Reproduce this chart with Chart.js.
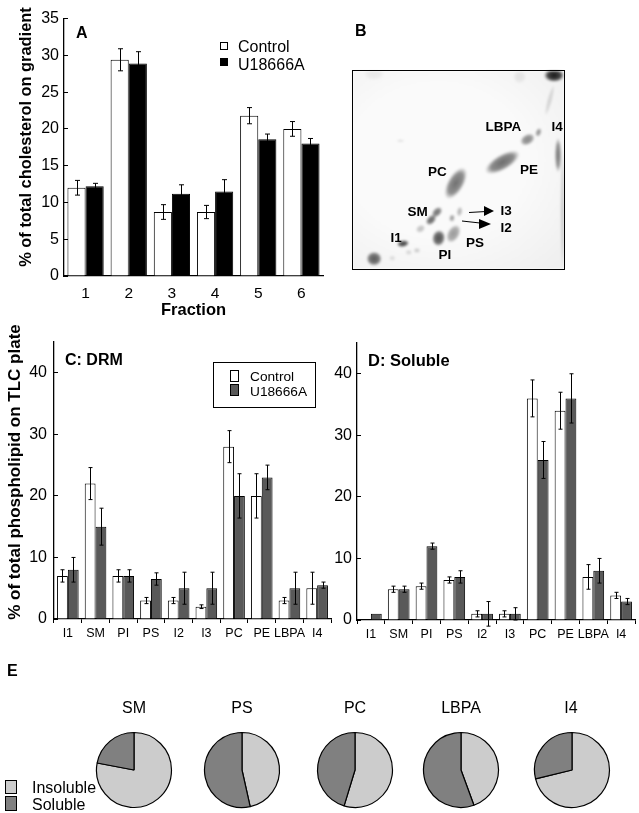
<!DOCTYPE html>
<html>
<head>
<meta charset="utf-8">
<script src="https://cdn.jsdelivr.net/npm/chart.js@4"></script>
<style>
    html, body { margin: 0; padding: 0; background: #fff; }
    #page { position: relative; width: 639px; height: 813px; overflow: hidden; font-family: "Liberation Sans", sans-serif; color: #000; }
    canvas { position: absolute; }
    .txt { position: absolute; white-space: nowrap; line-height: 1; }
    .panel { font-weight: bold; font-size: 16px; }
    .spot { font-weight: bold; font-size: 13.5px; }
    .ytitle { font-weight: bold; transform: translate(-50%, -50%) rotate(-90deg); }
    .swatch { position: absolute; box-sizing: border-box; border: 1px solid #000; }
    #legendC { position: absolute; left: 213px; top: 362px; width: 103px; height: 46px; box-sizing: border-box; border: 1px solid #000; }
    #plateFrame { position: absolute; left: 352px; top: 70px; width: 213px; height: 200px; box-sizing: border-box; border: 1px solid #000; }
    #plate { filter: blur(1.2px); background: radial-gradient(ellipse at 40% 45%, #fafafa 50%, #eeeeee 100%); }
    #arrows { position: absolute; left: 0; top: 0; }
</style>
</head>
<body>
<div id="page">
    <canvas id="chartA" style="left:0;top:0"></canvas>
    <canvas id="plate" style="left:353px;top:71px"></canvas>
    <div id="plateFrame"></div>
    <canvas id="chartC" style="left:0;top:320px"></canvas>
    <canvas id="chartD" style="left:330px;top:320px"></canvas>
    <canvas id="pieSM" style="left:94px;top:730px"></canvas>
    <canvas id="piePS" style="left:202px;top:730px"></canvas>
    <canvas id="piePC" style="left:315px;top:730px"></canvas>
    <canvas id="pieLBPA" style="left:421px;top:730px"></canvas>
    <canvas id="pieI4" style="left:532px;top:730px"></canvas>

    <svg id="arrows" width="639" height="813">
        <line x1="469" y1="212.5" x2="486" y2="211.5" stroke="#000" stroke-width="1"/>
        <polygon points="484,206 494,211 484,216" fill="#000"/>
        <line x1="462" y1="221" x2="480" y2="223" stroke="#000" stroke-width="1"/>
        <polygon points="479,219 491,224 479,229" fill="#000"/>
    </svg>

    <div class="txt panel" style="left:76px;top:25px">A</div>
    <div class="txt panel" style="left:355px;top:23px">B</div>
    <div class="txt panel" style="left:65px;top:352px">C: DRM</div>
    <div class="txt panel" style="left:368px;top:352px;font-size:16.5px">D: Soluble</div>
    <div class="txt panel" style="left:7px;top:663px">E</div>

    <div class="txt ytitle" style="left:25px;top:136.5px;font-size:16.4px">% of total cholesterol on gradient</div>
    <div class="txt ytitle" style="left:14px;top:472px;font-size:17px">% of total phospholipid on TLC plate</div>

    <div class="swatch" style="left:220px;top:42px;width:8px;height:8px;background:#fff"></div>
    <div class="swatch" style="left:220px;top:58px;width:8px;height:8px;background:#000"></div>
    <div class="txt" style="left:238px;top:39px;font-size:16px">Control</div>
    <div class="txt" style="left:238px;top:57px;font-size:16px">U18666A</div>

    <div id="legendC"></div>
    <div class="swatch" style="left:230px;top:370px;width:9px;height:12px;background:#fff"></div>
    <div class="swatch" style="left:230px;top:384px;width:9px;height:12px;background:#595959"></div>
    <div class="txt" style="left:250px;top:370px;font-size:13.7px">Control</div>
    <div class="txt" style="left:250px;top:385px;font-size:13.7px">U18666A</div>

    <div class="txt spot" style="left:485.5px;top:120px">LBPA</div>
    <div class="txt spot" style="left:551.5px;top:120px">I4</div>
    <div class="txt spot" style="left:428px;top:165px">PC</div>
    <div class="txt spot" style="left:520px;top:163px">PE</div>
    <div class="txt spot" style="left:407.5px;top:205px">SM</div>
    <div class="txt spot" style="left:500.5px;top:204px">I3</div>
    <div class="txt spot" style="left:500.5px;top:221px">I2</div>
    <div class="txt spot" style="left:390.5px;top:231px">I1</div>
    <div class="txt spot" style="left:466px;top:236px">PS</div>
    <div class="txt spot" style="left:438.5px;top:248px">PI</div>

    <div class="txt" style="left:134px;top:700px;font-size:16px;transform:translateX(-50%)">SM</div>
    <div class="txt" style="left:242px;top:700px;font-size:16px;transform:translateX(-50%)">PS</div>
    <div class="txt" style="left:355px;top:700px;font-size:16px;transform:translateX(-50%)">PC</div>
    <div class="txt" style="left:461px;top:700px;font-size:16px;transform:translateX(-50%)">LBPA</div>
    <div class="txt" style="left:571px;top:700px;font-size:16px;transform:translateX(-50%)">I4</div>

    <div class="swatch" style="left:5px;top:780px;width:12px;height:14px;background:#ccc"></div>
    <div class="swatch" style="left:5px;top:796px;width:12px;height:15px;background:#808080"></div>
    <div class="txt" style="left:32px;top:780px;font-size:16px">Insoluble</div>
    <div class="txt" style="left:32px;top:797px;font-size:16px">Soluble</div>
</div>

<script>
// Panel A
const fractions = ["1", "2", "3", "4", "5", "6"];
const cholControl = [12, 29.4, 8.7, 8.7, 21.8, 20];
const cholControlErr = [1, 1.5, 1, 0.9, 1.1, 1];
const cholDrug = [12.2, 28.9, 11.2, 11.5, 18.6, 18];
const cholDrugErr = [0.4, 1.6, 1.2, 1.6, 0.7, 0.7];

// Panels C and D
const lipids = ["I1", "SM", "PI", "PS", "I2", "I3", "PC", "PE", "LBPA", "I4"];
const drmControl = [7, 22, 7, 3, 3, 2, 28, 20, 3, 5];
const drmControlErr = [1, 2.6, 1, 0.5, 0.5, 0.3, 2.6, 3.6, 0.5, 2.6];
const drmDrug = [8, 15, 7, 6.5, 5, 5, 20, 23, 5, 5.5];
const drmDrugErr = [2, 3, 1, 1, 2.6, 2.6, 3.6, 2, 2.6, 0.5];
const solControl = [null, 5, 5.5, 6.5, 1, 1, 36, 34, 7, 4];
const solControlErr = [0, 0.5, 0.5, 0.5, 0.5, 0.5, 3, 3, 2, 0.5];
const solDrug = [1, 5, 12, 7, 1, 1, 26, 36, 8, 3];
const solDrugErr = [0, 0.5, 0.5, 1, 2, 1, 3, 4, 2, 0.5];

// Panel E, % insoluble then % soluble
const pieInsoluble = [78, 46.5, 54.7, 44.4, 71.2];
const pieSoluble = [22, 53.5, 45.3, 55.6, 28.8];

// Panel B, plate spots in plate units (0-100 each way)
const spotX = [10, 23.7, 18.6, 26.4, 30.3, 32, 37, 39.8, 40.6, 47.6, 46.9, 50.5, 48.7, 70.8, 82.7, 87.9, 97.2, 95.3, 93.2, 79, 10, 22.5, 99.5];
const spotY = [5.2, 12.8, 5.5, 8.4, 9.4, 20.3, 24.8, 28.7, 15.6, 17.8, 25.7, 29, 43.3, 53.9, 65.4, 69, 57.5, 97.8, 85.2, 97, 98.6, 64.8, 30];
const spotLong = [3.8, 3, 1.6, 1.6, 1.6, 2.4, 3, 3, 4, 4.8, 1.8, 2.4, 8.6, 9.5, 3.8, 2.2, 8.5, 5, 8, 3.2, 5, 2.4, 30];
const spotWide = [3.5, 1.7, 1.3, 1.3, 1.3, 1.8, 2, 2, 3.2, 3, 1.4, 1.4, 4, 3.8, 2.6, 1.4, 1.6, 3.2, 1.2, 3.2, 3.2, 0.4, 1.2];
const spotTilt = [0, -10, 0, 0, 0, -30, -45, -45, -80, -60, -80, -80, -60, -30, -30, -70, -90, 0, -75, -80, 0, 0, -90];
const spotDark = [0.7, 0.8, 0.12, 0.15, 0.2, 0.25, 0.65, 0.6, 0.75, 0.42, 0.4, 0.3, 0.6, 0.62, 0.5, 0.45, 0.55, 1, 0.15, 0.08, 0.06, 0.2, 0.2];

const black = "#000";
const dark = "#595959";

// draws the error bars over the bars, through the value scale
const errorBars = {
    id: "errorBars",
    afterDatasetsDraw(chart, args, opts) {
        const ctx = chart.ctx;
        const y = chart.scales.y;
        ctx.save();
        ctx.strokeStyle = "#000";
        ctx.lineWidth = 1;
        chart.data.datasets.forEach((ds, d) => {
            chart.getDatasetMeta(d).data.forEach((bar, i) => {
                if (ds.data[i] == null || !ds.errors[i]) return;
                const x = Math.round(bar.x) + 0.5;
                const hi = y.getPixelForValue(ds.data[i] + ds.errors[i]);
                const lo = y.getPixelForValue(ds.data[i] - ds.errors[i]);
                ctx.beginPath();
                ctx.moveTo(x, hi);
                ctx.lineTo(x, lo);
                ctx.moveTo(x - opts.cap, hi);
                ctx.lineTo(x + opts.cap, hi);
                ctx.moveTo(x - opts.cap, lo);
                ctx.lineTo(x + opts.cap, lo);
                ctx.stroke();
            });
        });
        ctx.restore();
    }
};

function barChart(id, w, h, cfg) {
    const canvas = document.getElementById(id);
    canvas.width = w;
    canvas.height = h;
    return new Chart(canvas, {
        type: "bar",
        data: {
            labels: cfg.labels,
            datasets: [
                { data: cfg.a, errors: cfg.aErr, backgroundColor: "#fff", borderColor: black, borderWidth: 1 },
                { data: cfg.b, errors: cfg.bErr, backgroundColor: cfg.fill, borderColor: black, borderWidth: 1 }
            ]
        },
        options: {
            responsive: false,
            animation: false,
            layout: { padding: cfg.padding },
            datasets: { bar: { categoryPercentage: cfg.groupShare, barPercentage: 1 } },
            plugins: {
                legend: { display: false },
                tooltip: { enabled: false },
                errorBars: { cap: cfg.cap }
            },
            scales: {
                x: {
                    afterFit: s => { s.height = cfg.xHeight; },
                    title: cfg.xTitle
                        ? { display: true, text: cfg.xTitle, color: black, font: { family: "Liberation Sans", size: 16.5, weight: "bold" }, padding: 0 }
                        : { display: false },
                    border: { color: black, width: 1.3 },
                    grid: { drawOnChartArea: false, offset: true, drawTicks: cfg.xTicks > 0, tickLength: cfg.xTicks, tickColor: black },
                    ticks: {
                        color: black,
                        autoSkip: false,
                        maxRotation: 0,
                        padding: cfg.xPad,
                        font: { family: "Liberation Sans", size: cfg.xFont }
                    }
                },
                y: {
                    min: 0,
                    max: cfg.max,
                    afterFit: s => { s.width = cfg.yWidth; },
                    // the axis runs past the last labelled tick in C and D
                    afterBuildTicks: s => { s.ticks = s.ticks.filter(t => t.value % cfg.step === 0); },
                    border: { color: black, width: 1.3 },
                    grid: { drawOnChartArea: false, tickLength: -4, tickColor: black },
                    ticks: {
                        stepSize: cfg.step,
                        color: black,
                        padding: cfg.yPad,
                        font: { family: "Liberation Sans", size: 16 }
                    }
                }
            }
        },
        plugins: [errorBars]
    });
}

barChart("chartA", 330, 320, {
    labels: fractions, a: cholControl, aErr: cholControlErr, b: cholDrug, bErr: cholDrugErr,
    fill: black, max: 35, step: 5, groupShare: 0.84, cap: 2.5,
    padding: { top: 18, right: 7 }, yWidth: 64, xHeight: 44,
    xTitle: "Fraction", xTicks: 0, xFont: 15.5, xPad: 8, yPad: 9
});

barChart("chartC", 332, 320, {
    labels: lipids, a: drmControl, aErr: drmControlErr, b: drmDrug, bErr: drmDrugErr,
    fill: dark, max: 45, step: 10, groupShare: 0.78, cap: 2,
    padding: { top: 22, right: 1 }, yWidth: 54, xHeight: 21,
    xTicks: 4, xFont: 12.5, xPad: 3, yPad: 11
});

barChart("chartD", 306, 320, {
    labels: lipids, a: solControl, aErr: solControlErr, b: solDrug, bErr: solDrugErr,
    fill: dark, max: 45, step: 10, groupShare: 0.78, cap: 2,
    padding: { top: 23, right: 1 }, yWidth: 27, xHeight: 20,
    xTicks: 4, xFont: 12.5, xPad: 3, yPad: 9
});

// pies, insoluble first going clockwise from the top
["pieSM", "piePS", "piePC", "pieLBPA", "pieI4"].forEach((id, i) => {
    const canvas = document.getElementById(id);
    canvas.width = 80;
    canvas.height = 80;
    new Chart(canvas, {
        type: "pie",
        data: {
            labels: ["Insoluble", "Soluble"],
            datasets: [{
                data: [pieInsoluble[i], pieSoluble[i]],
                backgroundColor: ["#ccc", "#808080"],
                borderColor: black,
                borderWidth: 1.2
            }]
        },
        options: {
            responsive: false,
            animation: false,
            radius: 37.5,
            plugins: { legend: { display: false }, tooltip: { enabled: false } }
        }
    });
});

// soft elliptical spot used as the point image on the plate
function spotImage(long, wide, darkness) {
    const c = document.createElement("canvas");
    const rx = long * 2.05, ry = wide * 2.05;
    c.width = Math.ceil(rx * 2) + 2;
    c.height = Math.ceil(ry * 2) + 2;
    const g = c.getContext("2d");
    g.translate(c.width / 2, c.height / 2);
    g.scale(1, ry / rx);
    const grad = g.createRadialGradient(0, 0, 0, 0, 0, rx);
    grad.addColorStop(0, "rgba(20,20,20," + darkness + ")");
    grad.addColorStop(0.65, "rgba(40,40,40," + darkness * 0.85 + ")");
    grad.addColorStop(1, "rgba(60,60,60,0)");
    g.fillStyle = grad;
    g.beginPath();
    g.arc(0, 0, rx, 0, Math.PI * 2);
    g.fill();
    return c;
}

const plateCanvas = document.getElementById("plate");
plateCanvas.width = 211;
plateCanvas.height = 198;
new Chart(plateCanvas, {
    type: "scatter",
    data: {
        datasets: [{
            data: spotX.map((x, i) => ({ x: x, y: spotY[i] })),
            pointStyle: spotX.map((x, i) => spotImage(spotLong[i], spotWide[i], spotDark[i])),
            rotation: spotTilt
        }]
    },
    options: {
        responsive: false,
        animation: false,
        layout: { padding: 0, autoPadding: false },
        clip: false,
        plugins: { legend: { display: false }, tooltip: { enabled: false } },
        scales: {
            x: { type: "linear", display: false, min: 0, max: 100 },
            y: { type: "linear", display: false, min: 0, max: 100 }
        }
    }
});
</script>
</body>
</html>
